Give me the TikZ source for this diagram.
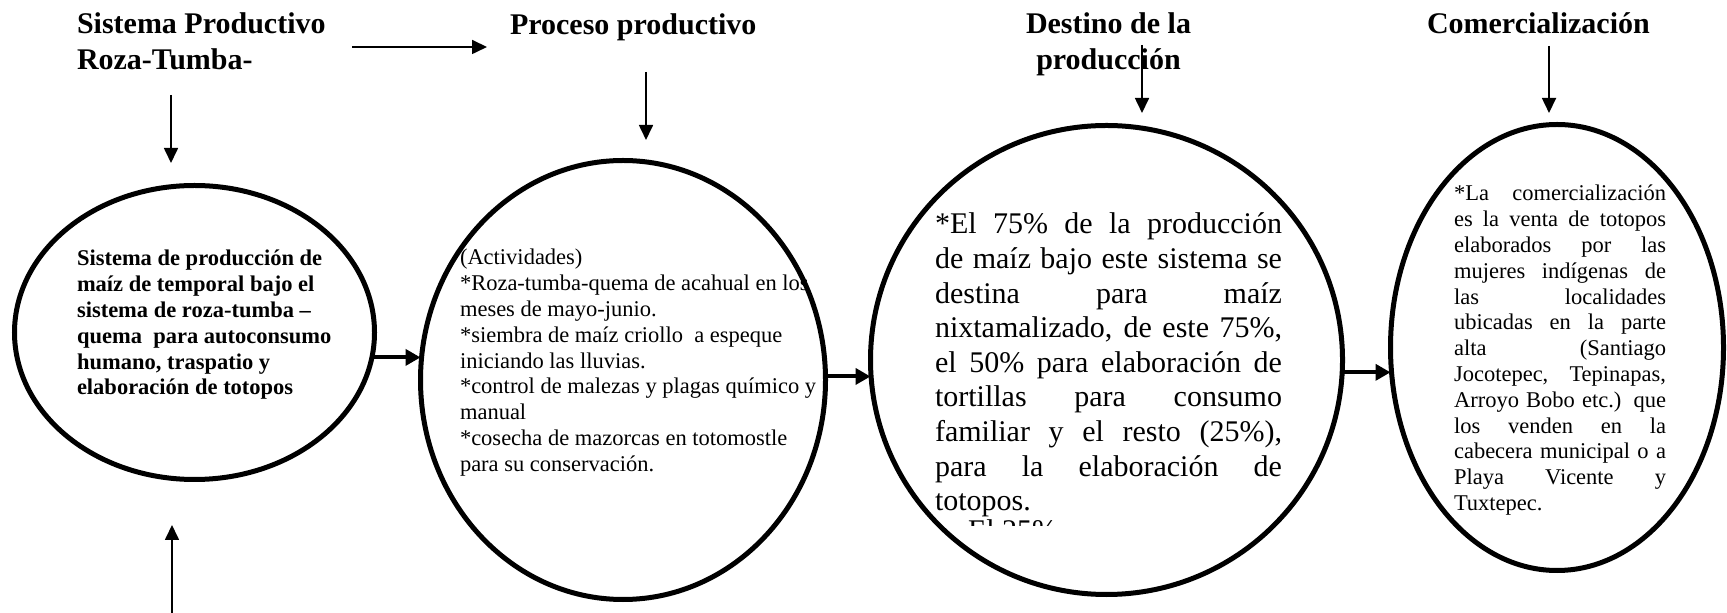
\documentclass[tikz,border=0pt]{standalone}
\usepackage{fontspec}
\setmainfont{Liberation Serif}
\usetikzlibrary{shapes.geometric,arrows.meta}
\hbadness=10000 \hfuzz=60pt \vbadness=10000
\newdimen\jw
\newcommand\jl[1]{\hbox to \jw{#1}}
\tikzset{
  txt/.style={inner sep=0pt,outer sep=0pt,anchor=base west},
  bubble/.style={ellipse,draw,line width=2.5pt,inner sep=0pt,outer sep=0pt},
  thinarrow/.style={line width=0.85pt,-{Triangle[length=7.5pt,width=7pt]}},
  thickarrow/.style={line width=2pt,-{Triangle[length=7.5pt,width=8pt]}},
}
\newcommand\ttlfont{\fontsize{15pt}{17.75pt}\selectfont\bfseries}
\begin{document}
\begin{tikzpicture}[x=0.5pt,y=-0.5pt]
\useasboundingbox (0,0) rectangle (1727,613);
% titles
\node[txt] (t1) at (77,34) {\vtop{\ttlfont\hbox{Sistema Productivo}\hbox{Roza-Tumba-}}};
\node[txt] (t2) at (510,35) {\ttlfont Proceso productivo};
\node[txt,anchor=base] (t3) at (1108.5,34) {\vtop{\ttlfont\hbox to 0pt{\hss Destino de la\hss}\hbox to 0pt{\hss producción\hss}}};
\node[txt] (t4) at (1427,34) {\ttlfont Comercialización};
% body texts
\node[txt] (b1) at (77,266) {\vtop{\fontsize{11.25pt}{12.9pt}\selectfont\bfseries
\hbox{Sistema de producción de}
\hbox{maíz de temporal bajo el}
\hbox{sistema de roza-tumba –}
\hbox{quema\ \ para autoconsumo}
\hbox{humano, traspatio y}
\hbox{elaboración de totopos}}};
\node[txt] (b2) at (460,265) {\vtop{\fontsize{11.25pt}{12.9pt}\selectfont
\hbox{(Actividades)}
\hbox{*Roza-tumba-quema de acahual en los}
\hbox{meses de mayo-junio.}
\hbox{*siembra de maíz criollo\ \ a espeque}
\hbox{iniciando las lluvias.}
\hbox{*control de malezas y plagas químico y}
\hbox{manual}
\hbox{*cosecha de mazorcas en totomostle}
\hbox{para su conservación.}}};
\node[txt] (b3) at (935,234) {\vtop{\fontsize{15pt}{17.3pt}\selectfont \jw=173.5pt
\jl{*El 75\% de la producción}
\jl{de maíz bajo este sistema se}
\jl{destina para maíz}
\jl{nixtamalizado, de este 75\%,}
\jl{el 50\% para elaboración de}
\jl{tortillas para consumo}
\jl{familiar y el resto (25\%),}
\jl{para la elaboración de}
\hbox{totopos.}}};
\begin{scope}
\clip (900,520) rectangle (1200,526);
\node[txt] (b3x) at (968,541) {\fontsize{15pt}{17.3pt}\selectfont El 25\%};
\end{scope}
\node[txt] (b4) at (1454,201) {\vtop{\fontsize{11.25pt}{12.9pt}\selectfont \jw=106pt
\jl{*La comercialización}
\jl{es la venta de totopos}
\jl{elaborados por las}
\jl{mujeres indígenas de}
\jl{las localidades}
\jl{ubicadas en la parte}
\jl{alta (Santiago}
\jl{Jocotepec, Tepinapas,}
\jl{Arroyo Bobo etc.) que}
\jl{los venden en la}
\jl{cabecera municipal o a}
\jl{Playa Vicente y}
\hbox{Tuxtepec.}}};
% ellipses
\node[bubble,minimum width=180pt,minimum height=147pt] (e1) at (194.5,332.5) {};
\node[bubble,minimum width=202.5pt,minimum height=219.5pt] (e2) at (623,380) {};
\node[bubble,minimum width=236pt,minimum height=234.5pt] (e3) at (1106.5,360) {};
\node[bubble,minimum width=166.5pt,minimum height=223pt] (e4) at (1557,347.5) {};
% free arrow ends
\coordinate (a1s) at (352,47);  \coordinate (a1e) at (487,47);
\coordinate (a2s) at (171,95);  \coordinate (a2e) at (171,163);
\coordinate (a3s) at (646,72);  \coordinate (a3e) at (646,140);
\coordinate (a4s) at (1142,45); \coordinate (a4e) at (1142,113);
\coordinate (a5s) at (1549,46); \coordinate (a5e) at (1549,113);
\coordinate (a6s) at (172,613); \coordinate (a6e) at (172,525);
% thin arrows
\draw[thinarrow] (a1s) -- (a1e);
\draw[thinarrow] (a2s) -- (a2e);
\draw[thinarrow] (a3s) -- (a3e);
\draw[thinarrow] (a4s) -- (a4e);
\draw[thinarrow] (a5s) -- (a5e);
\draw[thinarrow] (a6s) -- (a6e);
% thick arrows between ellipses
\draw[thickarrow] (e1.-8.86) -- (e1.-8.86 -| e2.west);
\draw[thickarrow] (e2.1.7) -- (e2.1.7 -| e3.west);
\draw[thickarrow] (e3.-3.6) -- (e3.-3.6 -| e4.west);
\end{tikzpicture}
\end{document}
